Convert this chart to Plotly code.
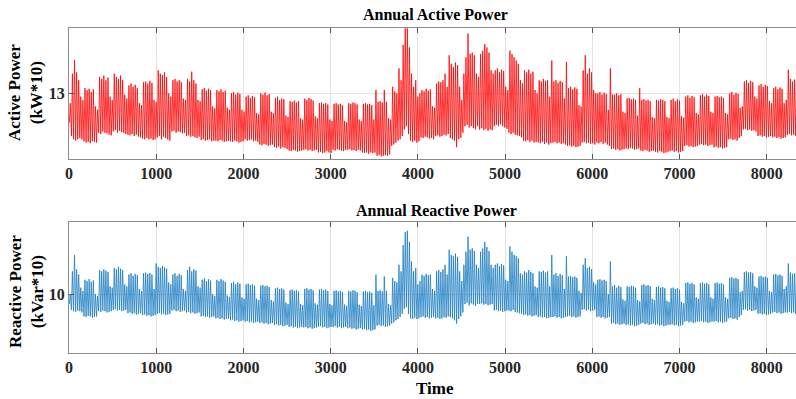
import plotly.graph_objects as go

# Daily trough / peak readings (365 days)
active_peak = [
    12.85, 13.30, 13.51, 13.32, 13.20, 12.95, 12.90,
    13.08, 13.05, 13.07, 13.02, 13.06, 12.80, 12.75,
    13.25, 13.22, 13.27, 13.20, 13.24, 12.95, 12.90,
    13.30, 13.25, 13.22, 13.27, 13.20, 12.98, 12.92,
    13.12, 13.15, 13.10, 13.13, 13.08, 12.85, 12.82,
    13.17, 13.18, 13.15, 13.19, 13.16, 12.90, 12.87,
    13.35, 13.30, 13.28, 13.32, 13.25, 13.00, 12.95,
    13.20, 13.22, 13.18, 13.20, 13.17, 12.92, 12.90,
    13.22, 13.18, 13.33, 13.20, 13.15, 12.90, 12.88,
    13.06, 13.08, 13.04, 13.07, 13.05, 12.80, 12.77,
    13.05, 13.03, 13.06, 13.02, 13.04, 12.78, 12.75,
    13.00, 13.02, 12.98, 13.01, 12.99, 12.75, 12.72,
    12.95, 12.97, 12.93, 12.96, 12.94, 12.70, 12.68,
    13.00, 12.98, 13.01, 12.97, 12.99, 12.72, 12.70,
    12.93, 12.95, 12.90, 12.92, 12.91, 12.66, 12.64,
    12.88, 12.87, 12.89, 12.86, 12.88, 12.62, 12.60,
    12.92, 12.90, 12.93, 12.91, 12.89, 12.65, 12.62,
    12.85, 12.86, 12.84, 12.85, 12.83, 12.60, 12.58,
    12.84, 12.85, 12.83, 12.84, 12.82, 12.58, 12.56,
    12.85, 12.84, 12.86, 12.85, 12.83, 12.60, 12.58,
    12.84, 12.85, 12.83, 12.84, 12.82, 12.60, 13.05,
    12.87, 12.88, 12.86, 13.05, 12.87, 12.62, 12.60,
    13.10, 13.03, 13.00, 13.38, 13.20, 13.74, 13.99,
    13.99, 13.70, 13.30, 13.10, 13.20, 12.95, 13.00,
    13.05, 13.03, 13.07, 13.04, 13.06, 12.80, 12.78,
    13.15, 13.18, 13.17, 13.20, 13.30, 13.10, 13.58,
    13.45, 13.40, 13.47, 13.43, 13.10, 12.90, 13.30,
    13.55, 13.91, 13.60, 13.62, 13.58, 13.30, 13.25,
    13.60, 13.65, 13.75, 13.70, 13.62, 13.35, 13.30,
    13.35, 13.38, 13.32, 13.36, 13.34, 13.10, 13.05,
    13.65, 13.60, 13.55, 13.50, 13.45, 13.20, 13.15,
    13.35, 13.32, 13.36, 13.30, 13.33, 13.05, 13.00,
    13.20, 13.18, 13.22, 13.19, 13.20, 12.95, 13.50,
    13.18, 13.20, 13.16, 13.19, 13.17, 12.92, 13.48,
    13.08, 13.10, 13.06, 13.09, 13.07, 12.82, 12.80,
    13.35, 13.58, 13.30, 13.38, 13.32, 13.05, 13.00,
    13.00, 13.02, 12.98, 13.01, 12.99, 12.75, 13.38,
    12.98, 12.98, 13.00, 12.97, 12.99, 12.72, 12.70,
    12.92, 12.93, 12.91, 12.92, 12.90, 12.66, 13.08,
    12.90, 12.91, 12.89, 12.90, 12.88, 12.64, 12.62,
    12.90, 12.89, 12.91, 12.90, 12.88, 12.64, 12.62,
    12.90, 12.92, 12.88, 12.91, 12.89, 12.65, 12.63,
    12.95, 12.97, 12.93, 12.96, 12.94, 12.70, 12.68,
    12.97, 12.99, 12.95, 12.98, 12.96, 12.72, 12.70,
    12.95, 12.96, 12.94, 12.95, 12.93, 12.70, 12.68,
    13.00, 13.02, 12.98, 13.01, 12.99, 12.78, 12.80,
    13.18, 13.20, 13.16, 13.19, 13.17, 12.95, 12.92,
    13.12, 13.14, 13.10, 13.13, 13.11, 12.88, 12.85,
    13.08, 13.10, 13.06, 13.09, 13.07, 12.85, 12.90,
    13.36, 13.22, 13.18, 13.21, 13.19, 12.95, 12.92,
    13.10, 13.12, 13.08, 13.11, 13.09, 12.85, 12.82,
    13.10, 13.12, 13.08, 13.11, 13.09, 12.85, 12.82,
    13.10,
]
active_trough = [
    12.55, 12.35, 12.30, 12.28, 12.30, 12.32, 12.30,
    12.27, 12.25, 12.26, 12.24, 12.27, 12.26, 12.25,
    12.40, 12.38, 12.42, 12.40, 12.39, 12.37, 12.36,
    12.42, 12.44, 12.40, 12.43, 12.41, 12.40, 12.38,
    12.37, 12.36, 12.38, 12.35, 12.37, 12.34, 12.33,
    12.31, 12.30, 12.32, 12.30, 12.31, 12.29, 12.30,
    12.33, 12.35, 12.30, 12.34, 12.32, 12.30, 12.28,
    12.42, 12.43, 12.40, 12.42, 12.41, 12.39, 12.40,
    12.35, 12.36, 12.34, 12.35, 12.33, 12.32, 12.34,
    12.29, 12.30, 12.28, 12.29, 12.30, 12.27, 12.28,
    12.28, 12.27, 12.29, 12.28, 12.26, 12.27, 12.28,
    12.27, 12.26, 12.28, 12.27, 12.25, 12.26, 12.27,
    12.30, 12.28, 12.29, 12.30, 12.27, 12.28, 12.26,
    12.22, 12.21, 12.23, 12.22, 12.20, 12.21, 12.22,
    12.18, 12.17, 12.19, 12.16, 12.18, 12.17, 12.15,
    12.13, 12.12, 12.14, 12.13, 12.11, 12.12, 12.13,
    12.14, 12.15, 12.13, 12.14, 12.12, 12.13, 12.14,
    12.10, 12.11, 12.09, 12.10, 12.12, 12.10, 12.09,
    12.14, 12.13, 12.15, 12.14, 12.13, 12.12, 12.14,
    12.14, 12.15, 12.13, 12.14, 12.12, 12.14, 12.13,
    12.10, 12.09, 12.10, 12.08, 12.10, 12.09, 12.10,
    12.05, 12.06, 12.04, 12.05, 12.06, 12.05, 12.07,
    12.20, 12.22, 12.25, 12.28, 12.30, 12.35, 12.45,
    12.50, 12.38, 12.28, 12.26, 12.28, 12.25, 12.27,
    12.33, 12.32, 12.34, 12.33, 12.31, 12.32, 12.30,
    12.35, 12.36, 12.34, 12.35, 12.37, 12.36, 12.38,
    12.32, 12.30, 12.28, 12.18, 12.30, 12.32, 12.40,
    12.50, 12.52, 12.48, 12.50, 12.47, 12.45, 12.50,
    12.45, 12.47, 12.44, 12.46, 12.43, 12.45, 12.44,
    12.50, 12.52, 12.50, 12.53, 12.50, 12.48, 12.46,
    12.40, 12.38, 12.40, 12.37, 12.36, 12.35, 12.33,
    12.28, 12.27, 12.29, 12.26, 12.28, 12.25, 12.26,
    12.25, 12.24, 12.26, 12.23, 12.25, 12.22, 12.24,
    12.25, 12.26, 12.24, 12.25, 12.23, 12.24, 12.22,
    12.20, 12.21, 12.19, 12.20, 12.18, 12.19, 12.20,
    12.25, 12.26, 12.24, 12.25, 12.23, 12.24, 12.22,
    12.25, 12.24, 12.26, 12.23, 12.25, 12.22, 12.20,
    12.15, 12.16, 12.14, 12.15, 12.13, 12.14, 12.15,
    12.16, 12.15, 12.17, 12.16, 12.14, 12.15, 12.16,
    12.13, 12.12, 12.14, 12.13, 12.11, 12.12, 12.13,
    12.11, 12.10, 12.12, 12.11, 12.09, 12.10, 12.11,
    12.12, 12.13, 12.11, 12.12, 12.10, 12.11, 12.12,
    12.20, 12.21, 12.19, 12.20, 12.18, 12.19, 12.20,
    12.22, 12.23, 12.21, 12.22, 12.20, 12.21, 12.22,
    12.18, 12.19, 12.17, 12.18, 12.16, 12.17, 12.18,
    12.30, 12.31, 12.29, 12.30, 12.28, 12.32, 12.35,
    12.45, 12.46, 12.44, 12.45, 12.43, 12.44, 12.42,
    12.35, 12.36, 12.34, 12.35, 12.33, 12.34, 12.35,
    12.33, 12.34, 12.32, 12.33, 12.31, 12.32, 12.33,
    12.37, 12.38, 12.36, 12.37, 12.35, 12.36, 12.37,
    12.35, 12.36, 12.34, 12.35, 12.33, 12.34, 12.35,
    12.35, 12.36, 12.34, 12.35, 12.33, 12.34, 12.35,
    12.35,
]
reactive_peak = [
    10.00, 10.35, 10.60, 10.38, 10.30, 10.10, 10.05,
    10.22, 10.20, 10.23, 10.19, 10.21, 10.00, 9.97,
    10.37, 10.35, 10.38, 10.36, 10.34, 10.12, 10.10,
    10.40, 10.38, 10.42, 10.39, 10.37, 10.15, 10.12,
    10.30, 10.32, 10.28, 10.31, 10.29, 10.08, 10.05,
    10.32, 10.33, 10.31, 10.32, 10.30, 10.08, 10.47,
    10.42, 10.40, 10.43, 10.41, 10.39, 10.18, 10.15,
    10.30, 10.32, 10.28, 10.31, 10.29, 10.08, 10.05,
    10.37, 10.42, 10.35, 10.38, 10.36, 10.12, 10.10,
    10.22, 10.24, 10.20, 10.23, 10.21, 10.00, 9.97,
    10.22, 10.20, 10.23, 10.21, 10.19, 9.98, 9.96,
    10.17, 10.19, 10.15, 10.18, 10.16, 9.95, 9.93,
    10.15, 10.16, 10.14, 10.15, 10.13, 9.93, 9.91,
    10.13, 10.14, 10.12, 10.13, 10.11, 9.91, 9.89,
    10.09, 10.10, 10.08, 10.09, 10.07, 9.87, 9.85,
    10.06, 10.07, 10.05, 10.06, 10.04, 9.85, 9.83,
    10.08, 10.09, 10.07, 10.08, 10.06, 9.86, 9.84,
    10.07, 10.08, 10.06, 10.07, 10.05, 9.85, 9.83,
    10.05, 10.06, 10.04, 10.05, 10.03, 9.84, 9.82,
    10.05, 10.04, 10.06, 10.05, 10.03, 9.84, 9.82,
    10.04, 10.05, 10.03, 10.04, 10.02, 9.83, 10.30,
    10.05, 10.06, 10.04, 10.27, 10.05, 9.85, 9.83,
    10.25, 10.20, 10.18, 10.45, 10.35, 10.75, 10.95,
    10.97, 10.80, 10.50, 10.35, 10.40, 10.15, 10.20,
    10.30, 10.28, 10.31, 10.29, 10.30, 10.08, 10.05,
    10.35, 10.37, 10.34, 10.38, 10.45, 10.30, 10.68,
    10.60, 10.58, 10.62, 10.57, 10.35, 10.20, 10.45,
    10.65, 10.88, 10.68, 10.70, 10.66, 10.45, 10.40,
    10.65, 10.70, 10.80, 10.72, 10.66, 10.45, 10.40,
    10.45, 10.47, 10.43, 10.46, 10.44, 10.22, 10.20,
    10.73, 10.65, 10.60, 10.58, 10.55, 10.32, 10.30,
    10.35, 10.33, 10.37, 10.34, 10.32, 10.12, 10.10,
    10.35, 10.34, 10.36, 10.33, 10.35, 10.12, 10.60,
    10.30, 10.32, 10.28, 10.31, 10.29, 10.08, 10.58,
    10.27, 10.28, 10.26, 10.27, 10.25, 10.05, 10.02,
    10.45, 10.55, 10.40, 10.42, 10.38, 10.18, 10.15,
    10.22, 10.23, 10.21, 10.22, 10.20, 10.00, 10.50,
    10.12, 10.14, 10.10, 10.13, 10.11, 9.92, 9.90,
    10.12, 10.11, 10.13, 10.12, 10.10, 9.91, 9.89,
    10.14, 10.15, 10.13, 10.14, 10.12, 9.93, 9.91,
    10.11, 10.12, 10.10, 10.11, 10.09, 9.90, 9.88,
    10.09, 10.10, 10.08, 10.09, 10.07, 9.88, 9.86,
    10.17, 10.18, 10.16, 10.17, 10.15, 9.95, 9.93,
    10.17, 10.18, 10.16, 10.17, 10.15, 9.95, 9.93,
    10.17, 10.18, 10.16, 10.17, 10.15, 9.95, 9.93,
    10.25, 10.26, 10.24, 10.25, 10.23, 10.03, 10.05,
    10.34, 10.35, 10.33, 10.34, 10.32, 10.12, 10.10,
    10.27, 10.28, 10.26, 10.27, 10.25, 10.05, 10.03,
    10.30, 10.31, 10.29, 10.30, 10.28, 10.08, 10.12,
    10.47, 10.33, 10.31, 10.32, 10.30, 10.10, 10.08,
    10.30, 10.31, 10.29, 10.30, 10.28, 10.08, 10.06,
    10.30, 10.31, 10.29, 10.30, 10.28, 10.08, 10.06,
    10.30,
]
reactive_trough = [
    9.85, 9.76, 9.74, 9.73, 9.75, 9.74, 9.72,
    9.66, 9.65, 9.67, 9.66, 9.64, 9.65, 9.66,
    9.74, 9.73, 9.75, 9.74, 9.72, 9.73, 9.74,
    9.76, 9.77, 9.75, 9.76, 9.74, 9.75, 9.76,
    9.71, 9.72, 9.70, 9.71, 9.69, 9.70, 9.71,
    9.68, 9.69, 9.67, 9.68, 9.66, 9.67, 9.68,
    9.70, 9.71, 9.69, 9.70, 9.68, 9.69, 9.70,
    9.75, 9.76, 9.74, 9.75, 9.73, 9.74, 9.75,
    9.72, 9.73, 9.71, 9.72, 9.70, 9.71, 9.72,
    9.66, 9.67, 9.65, 9.66, 9.64, 9.65, 9.66,
    9.63, 9.64, 9.62, 9.63, 9.61, 9.62, 9.63,
    9.60, 9.61, 9.59, 9.60, 9.58, 9.59, 9.60,
    9.58, 9.59, 9.57, 9.58, 9.56, 9.57, 9.58,
    9.56, 9.57, 9.55, 9.56, 9.54, 9.55, 9.56,
    9.53, 9.54, 9.52, 9.53, 9.51, 9.52, 9.53,
    9.50, 9.51, 9.49, 9.50, 9.48, 9.49, 9.50,
    9.49, 9.50, 9.48, 9.49, 9.47, 9.48, 9.49,
    9.50, 9.51, 9.49, 9.50, 9.48, 9.49, 9.50,
    9.50, 9.51, 9.49, 9.50, 9.48, 9.49, 9.50,
    9.48, 9.49, 9.47, 9.48, 9.46, 9.47, 9.48,
    9.46, 9.47, 9.45, 9.46, 9.44, 9.45, 9.46,
    9.52, 9.53, 9.51, 9.52, 9.50, 9.51, 9.52,
    9.55, 9.57, 9.60, 9.62, 9.65, 9.70, 9.78,
    9.80, 9.70, 9.63, 9.62, 9.64, 9.62, 9.63,
    9.65, 9.66, 9.64, 9.65, 9.63, 9.64, 9.65,
    9.63, 9.64, 9.62, 9.63, 9.65, 9.64, 9.66,
    9.65, 9.63, 9.60, 9.55, 9.62, 9.66, 9.72,
    9.85, 9.87, 9.83, 9.86, 9.84, 9.82, 9.85,
    9.85, 9.86, 9.84, 9.85, 9.83, 9.84, 9.85,
    9.75, 9.76, 9.74, 9.75, 9.73, 9.74, 9.75,
    9.75, 9.74, 9.76, 9.73, 9.72, 9.71, 9.70,
    9.68, 9.69, 9.67, 9.68, 9.66, 9.67, 9.68,
    9.65, 9.66, 9.64, 9.65, 9.63, 9.64, 9.65,
    9.65, 9.66, 9.64, 9.65, 9.63, 9.64, 9.65,
    9.66, 9.67, 9.65, 9.66, 9.64, 9.65, 9.66,
    9.76, 9.77, 9.75, 9.76, 9.74, 9.75, 9.76,
    9.65, 9.66, 9.64, 9.65, 9.63, 9.64, 9.65,
    9.55, 9.56, 9.54, 9.55, 9.53, 9.54, 9.55,
    9.53, 9.54, 9.52, 9.53, 9.51, 9.52, 9.53,
    9.55, 9.56, 9.54, 9.55, 9.53, 9.54, 9.55,
    9.53, 9.54, 9.52, 9.53, 9.51, 9.52, 9.53,
    9.53, 9.54, 9.52, 9.53, 9.51, 9.52, 9.53,
    9.58, 9.59, 9.57, 9.58, 9.56, 9.57, 9.58,
    9.58, 9.59, 9.57, 9.58, 9.56, 9.57, 9.58,
    9.58, 9.59, 9.57, 9.58, 9.56, 9.57, 9.58,
    9.63, 9.64, 9.62, 9.63, 9.61, 9.65, 9.68,
    9.76, 9.77, 9.75, 9.76, 9.74, 9.75, 9.76,
    9.70, 9.71, 9.69, 9.70, 9.68, 9.69, 9.70,
    9.72, 9.73, 9.71, 9.72, 9.70, 9.71, 9.72,
    9.72, 9.73, 9.71, 9.72, 9.70, 9.71, 9.72,
    9.70, 9.71, 9.69, 9.70, 9.68, 9.69, 9.70,
    9.70, 9.71, 9.69, 9.70, 9.68, 9.69, 9.70,
    9.70,
]
trough_hour = 4      # hour of the day of the daily minimum
peak_hour = 15       # hour of the day of the daily maximum
x_ticks = [0, 1000, 2000, 3000, 4000, 5000, 6000, 7000, 8000]
active_ticks = [13]
reactive_ticks = [10]

def series(troughs, peaks):
    xs, ys = [], []
    for d, (lo, hi) in enumerate(zip(troughs, peaks)):
        xs += [24 * d + trough_hour, 24 * d + peak_hour]
        ys += [lo, hi]
    return xs, ys

ax, ay = series(active_trough, active_peak)
rx, ry = series(reactive_trough, reactive_peak)

W, H = 796, 399
L = 69
serif = "Liberation Serif, Times New Roman, serif"
dark = "#262626"

fig = go.Figure()
fig.add_trace(go.Scatter(x=ax, y=ay, mode="lines", line=dict(color="#FF0000", width=0.8),
                         xaxis="x", yaxis="y", showlegend=False, hoverinfo="skip"))
fig.add_trace(go.Scatter(x=rx, y=ry, mode="lines", line=dict(color="#1A7CC2", width=0.8),
                         xaxis="x2", yaxis="y2", showlegend=False, hoverinfo="skip"))

def py(px):
    return 1 - px / H

xcommon = dict(range=[0, 8335], tickvals=x_ticks, ticktext=[str(v) for v in x_ticks],
               showgrid=True, gridcolor="#e3e3e3", gridwidth=1, zeroline=False,
               showline=True, linecolor="#8c8c8c", linewidth=1, mirror="ticks",
               ticks="inside", ticklen=5, tickcolor="#555", tickwidth=1,
               tickfont=dict(family=serif, size=16, color=dark, weight="bold"),
               domain=[0, 1])
ycommon = dict(showgrid=True, gridcolor="#e3e3e3", gridwidth=1, zeroline=False,
               showline=True, linecolor="#8c8c8c", linewidth=1,
               ticks="inside", ticklen=5, tickcolor="#555", tickwidth=1,
               tickfont=dict(family=serif, size=16, color=dark, weight="bold"))

fig.update_layout(
    width=W, height=H, margin=dict(l=L, r=0, t=0, b=0),
    paper_bgcolor="white", plot_bgcolor="white",
    xaxis=dict(anchor="y", **xcommon),
    yaxis=dict(anchor="x", range=[12.0, 14.0], tickvals=active_ticks,
               domain=[py(159), py(27.7)], **ycommon),
    xaxis2=dict(anchor="y2", **xcommon),
    yaxis2=dict(anchor="x2", range=[9.1, 11.1], tickvals=reactive_ticks,
                domain=[py(353), py(222.3)], **ycommon),
)

def ann(text, xpx, ypx, size, angle=0):
    fig.add_annotation(text=text, xref="paper", yref="paper",
                       x=(xpx - L) / (W - L), y=py(ypx), showarrow=False,
                       textangle=angle, xanchor="center", yanchor="middle",
                       font=dict(family=serif, size=size, color="black"))

ann("<b>Annual Active Power</b>", 435, 14, 16)
ann("<b>Annual Reactive Power</b>", 436, 210, 16)
ann("<b>Time</b>", 435, 388, 17)
ann("<b>Active Power</b><br><b>(kW*10)</b>", 26, 93, 17, -90)
ann("<b>Reactive Power</b><br><b>(kVar*10)</b>", 26, 292, 17, -90)

fig.write_html("out.html", config={"displayModeBar": False, "staticPlot": True},
               post_script="document.body.style.margin='0';document.body.style.overflow='hidden';")
